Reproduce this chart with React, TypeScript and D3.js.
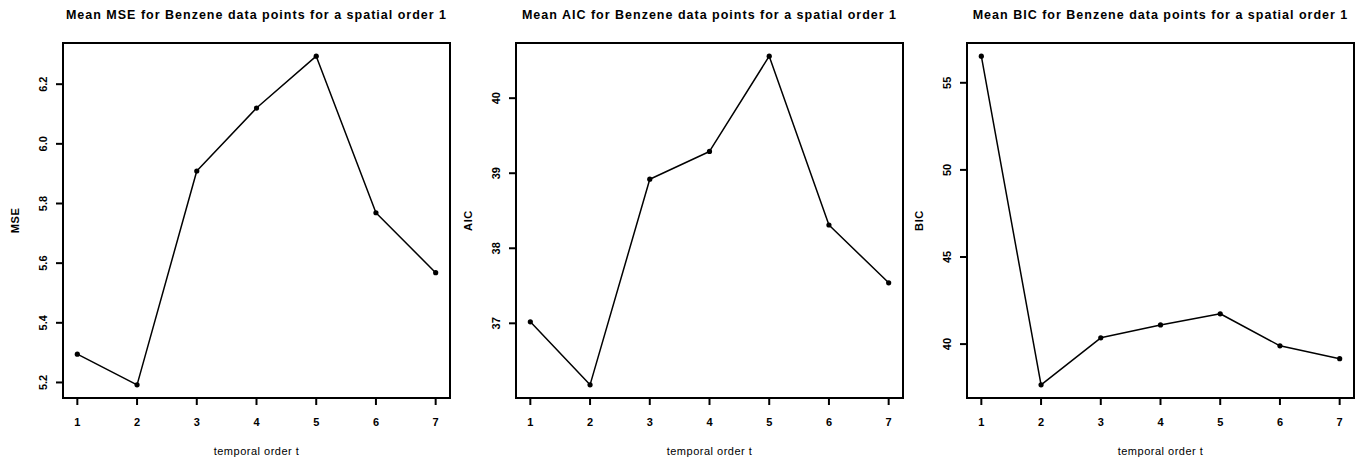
import React from "react";
import * as d3 from "d3";

const temporalOrder = [1, 2, 3, 4, 5, 6, 7];
const mseValues = [5.295, 5.192, 5.909, 6.12, 6.294, 5.769, 5.568];
const aicValues = [37.02, 36.18, 38.92, 39.29, 40.56, 38.31, 37.54];
const bicValues = [56.53, 37.66, 40.36, 41.1, 41.74, 39.9, 39.16];

const mseTicks = [5.2, 5.4, 5.6, 5.8, 6.0, 6.2];
const aicTicks = [37, 38, 39, 40];
const bicTicks = [40, 45, 50, 55];

const panels = [
  { title: "Mean MSE for Benzene data points for a spatial order 1", ylab: "MSE", values: mseValues, ticks: mseTicks, fmt: (v: number) => v.toFixed(1) },
  { title: "Mean AIC for Benzene data points for a spatial order 1", ylab: "AIC", values: aicValues, ticks: aicTicks, fmt: (v: number) => String(v) },
  { title: "Mean BIC for Benzene data points for a spatial order 1", ylab: "BIC", values: bicValues, ticks: bicTicks, fmt: (v: number) => String(v) },
];

const lefts = [63, 516, 967];
const plotW = 387;
const top = 43;
const bottom = 398;
const font = "'Liberation Sans', Arial, Helvetica, sans-serif";

function rExtent(vals: number[]): [number, number] {
  const [mn, mx] = d3.extent(vals) as [number, number];
  const pad = (mx - mn) * 0.04;
  return [mn - pad, mx + pad];
}

function Panel({ p, left }: { p: typeof panels[number]; left: number }) {
  const x = d3.scaleLinear().domain(rExtent(temporalOrder)).range([left, left + plotW]);
  const y = d3.scaleLinear().domain(rExtent(p.values)).range([bottom, top]);
  const line = d3
    .line<number>()
    .x((_, i) => x(temporalOrder[i]))
    .y((d) => y(d));
  const cx = left + plotW / 2;
  return (
    <g>
      <text x={cx} y={19} textAnchor="middle" fontFamily={font} fontWeight="bold" fontSize={12.5} letterSpacing={1} fill="#000">
        {p.title}
      </text>
      <rect x={left} y={top} width={plotW} height={bottom - top} fill="none" stroke="#000" strokeWidth={2} />
      <path d={line(p.values) || ""} fill="none" stroke="#000" strokeWidth={1.5} strokeLinejoin="round" />
      {p.values.map((v, i) => (
        <circle key={i} cx={x(temporalOrder[i])} cy={y(v)} r={2.6} fill="#000" />
      ))}
      {temporalOrder.map((t) => (
        <g key={t}>
          <line x1={x(t)} x2={x(t)} y1={bottom} y2={bottom + 7} stroke="#000" strokeWidth={2} />
          <text x={x(t)} y={426} textAnchor="middle" fontFamily={font} fontWeight="bold" fontSize={11} fill="#000">
            {t}
          </text>
        </g>
      ))}
      {p.ticks.map((t) => (
        <g key={t}>
          <line x1={left - 7} x2={left} y1={y(t)} y2={y(t)} stroke="#000" strokeWidth={2} />
          <text
            transform={`translate(${left - 16},${y(t)}) rotate(-90)`}
            textAnchor="middle"
            fontFamily={font}
            fontWeight="bold"
            fontSize={11}
            fill="#000"
          >
            {p.fmt(t)}
          </text>
        </g>
      ))}
      <text x={cx} y={455} textAnchor="middle" fontFamily={font} fontSize={11} letterSpacing={0.5} fill="#000">
        temporal order t
      </text>
      <text
        transform={`translate(${left - 44},${(top + bottom) / 2}) rotate(-90)`}
        textAnchor="middle"
        fontFamily={font}
        fontWeight="bold"
        fontSize={11}
        letterSpacing={0.6}
        fill="#000"
      >
        {p.ylab}
      </text>
    </g>
  );
}

export default function App() {
  return (
    <svg
      width={1364}
      height={464}
      style={{ position: "absolute", left: 0, top: 0, background: "#fff" }}
    >
      <rect x={0} y={0} width={1364} height={464} fill="#fff" />
      {panels.map((p, i) => (
        <Panel key={p.ylab} p={p} left={lefts[i]} />
      ))}
    </svg>
  );
}
